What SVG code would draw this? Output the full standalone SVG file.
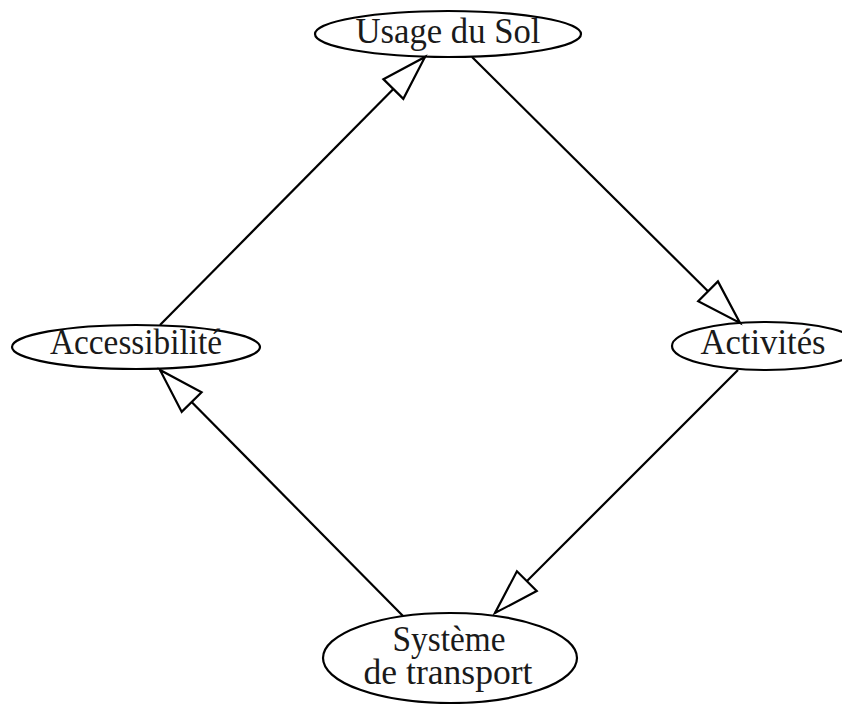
<svg xmlns="http://www.w3.org/2000/svg" width="842" height="704" viewBox="0 0 842 704">
<style>
.node ellipse{fill:none;stroke:#000;stroke-width:2.2}
.node text{font-family:"Liberation Serif","DejaVu Serif",serif;font-size:36px;fill:#1a1a1a;text-anchor:middle}
.edge{fill:none;stroke:#000;stroke-width:2.2;marker-end:url(#arr)}
</style>
<defs>
<marker id="arr" markerUnits="userSpaceOnUse" viewBox="0 0 45 28" markerWidth="45" markerHeight="28" refX="45" refY="14" orient="auto" overflow="visible">
<path d="M0,0 L45,14 L0,28 Z" fill="#fff" stroke="#000" stroke-width="2.2" stroke-linejoin="miter"/>
</marker>
</defs>
<rect width="842" height="704" fill="#fff"/>
<g id="connectors">
<path class="edge" d="M160,325 L425,57"/>
<path class="edge" d="M472,57 L740,323"/>
<path class="edge" d="M738,370 L495,613"/>
<path class="edge" d="M403,616 L160,370"/>
</g>
<g id="usage" class="node">
<ellipse cx="448" cy="34" rx="133" ry="23"/>
<text x="448" y="43" textLength="185" lengthAdjust="spacingAndGlyphs">Usage du Sol</text>
</g>
<g id="accessibilite" class="node">
<ellipse cx="136" cy="347" rx="124" ry="22"/>
<text x="136" y="354" textLength="172" lengthAdjust="spacingAndGlyphs">Accessibilité</text>
</g>
<g id="activites" class="node">
<ellipse cx="766" cy="346" rx="94" ry="24"/>
<text x="763" y="354" textLength="125" lengthAdjust="spacingAndGlyphs">Activités</text>
</g>
<g id="systeme" class="node">
<ellipse cx="450" cy="658" rx="127" ry="45"/>
<text x="449" y="651" textLength="113" lengthAdjust="spacingAndGlyphs">Système</text>
<text x="448" y="684" textLength="169" lengthAdjust="spacingAndGlyphs">de transport</text>
</g>
</svg>
